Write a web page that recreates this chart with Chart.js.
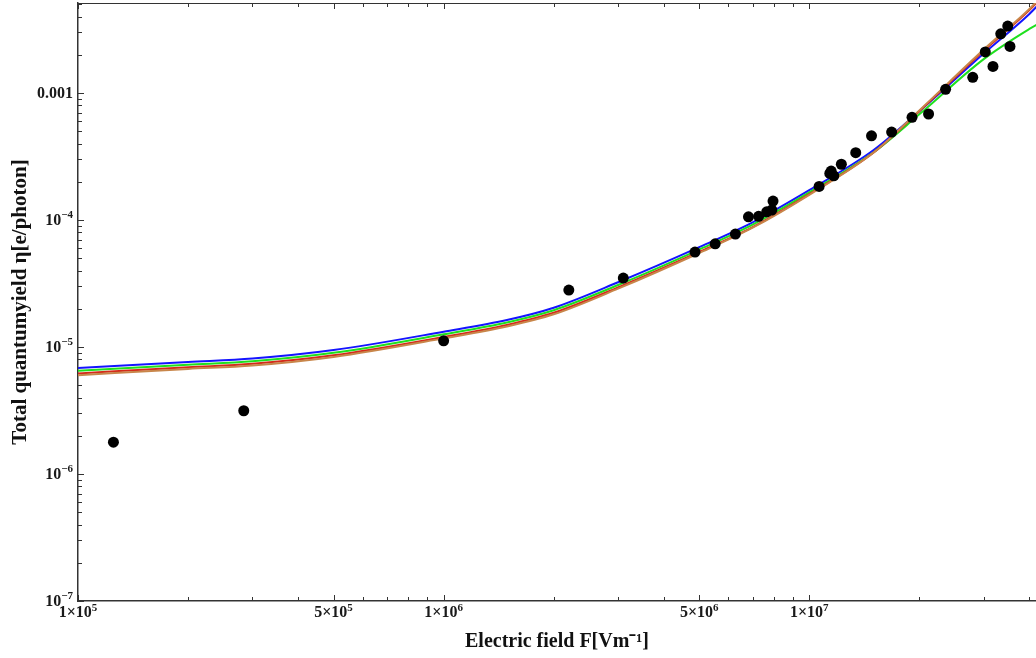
<!DOCTYPE html>
<html>
<head>
<meta charset="utf-8">
<script src="https://cdn.jsdelivr.net/npm/chart.js@4/dist/chart.umd.min.js"></script>
<style>
    body { margin: 0; background: #fff; }
</style>
</head>
<body>
<canvas id="yieldChart" width="1036" height="658"></canvas>
<script>
const fieldGrid = [1e5, 2e5, 3e5, 5e5, 1e6, 1.5e6, 2e6, 3e6, 5e6, 7e6, 1e7, 1.5e7, 2e7, 3e7, 4e7, 4.3e7]
const yieldBlue = [6.84e-6, 7.62e-6, 8.11e-6, 9.46e-6, 1.32e-5, 1.64e-5, 2.04e-5, 3.24e-5, 6.12e-5, 9.6e-5, 1.72e-4, 3.56e-4, 7.2e-4, 2.05e-3, 4.2e-3, 5.2e-3]
const yieldGreen = [6.5e-6, 7.25e-6, 7.72e-6, 9.0e-6, 1.26e-5, 1.57e-5, 1.95e-5, 3.08e-5, 5.85e-5, 9.2e-5, 1.65e-4, 3.42e-4, 6.8e-4, 1.85e-3, 3.2e-3, 3.6e-3]
const yieldRed = [6.2e-6, 6.93e-6, 7.38e-6, 8.6e-6, 1.2e-5, 1.5e-5, 1.86e-5, 2.95e-5, 5.6e-5, 8.8e-5, 1.6e-4, 3.4e-4, 7.2e-4, 2.15e-3, 4.5e-3, 5.6e-3]
const yieldBrown = [6.0e-6, 6.72e-6, 7.15e-6, 8.35e-6, 1.17e-5, 1.46e-5, 1.81e-5, 2.88e-5, 5.5e-5, 8.7e-5, 1.58e-4, 3.4e-4, 7.3e-4, 2.2e-3, 4.6e-3, 5.7e-3]

const measuredField = [1.25e5, 2.84e5, 1.0e6, 2.2e6, 3.1e6, 4.87e6, 5.53e6, 6.28e6, 6.82e6, 7.27e6, 7.65e6, 7.9e6, 7.96e6, 1.064e7, 1.138e7, 1.148e7, 1.167e7, 1.224e7, 1.34e7, 1.48e7, 1.68e7, 1.91e7, 2.12e7, 2.36e7, 2.8e7, 3.03e7, 3.18e7, 3.34e7, 3.49e7, 3.54e7]
const measuredYield = [1.78e-6, 3.15e-6, 1.12e-5, 2.81e-5, 3.49e-5, 5.6e-5, 6.5e-5, 7.76e-5, 1.06e-4, 1.07e-4, 1.16e-4, 1.2e-4, 1.41e-4, 1.84e-4, 2.33e-4, 2.43e-4, 2.23e-4, 2.75e-4, 3.39e-4, 4.61e-4, 4.93e-4, 6.44e-4, 6.84e-4, 1.07e-3, 1.33e-3, 2.11e-3, 1.62e-3, 2.93e-3, 3.37e-3, 2.33e-3]

const xTickValues = [1e5, 2e5, 3e5, 4e5, 5e5, 6e5, 7e5, 8e5, 9e5, 1e6, 2e6, 3e6, 4e6, 5e6, 6e6, 7e6, 8e6, 9e6, 1e7, 2e7, 3e7, 4e7]
const xMajorValues = [1e5, 5e5, 1e6, 5e6, 1e7]
const xMajorBase = ['1×10', '5×10', '1×10', '5×10', '1×10']
const xMajorExp = ['5', '5', '6', '6', '7']
const yTickValues = [1e-7, 2e-7, 3e-7, 4e-7, 5e-7, 6e-7, 7e-7, 8e-7, 9e-7, 1e-6, 2e-6, 3e-6, 4e-6, 5e-6, 6e-6, 7e-6, 8e-6, 9e-6, 1e-5, 2e-5, 3e-5, 4e-5, 5e-5, 6e-5, 7e-5, 8e-5, 9e-5, 1e-4, 2e-4, 3e-4, 4e-4, 5e-4, 6e-4, 7e-4, 8e-4, 9e-4, 1e-3, 2e-3, 3e-3, 4e-3, 5e-3]
const yMajorValues = [1e-7, 1e-6, 1e-5, 1e-4, 1e-3]
const yMajorBase = ['10', '10', '10', '10', '0.001']
const yMajorExp = ['−7', '−6', '−5', '−4', '']

const serif = "'Liberation Serif', 'Times New Roman', serif"

const toPoints = (xs, ys) => xs.map((x, i) => ({ x: x, y: ys[i] }))

const curve = (label, ys, color) => ({
    type: 'line',
    label: label,
    data: toPoints(fieldGrid, ys),
    borderColor: color,
    borderWidth: 2,
    pointRadius: 0,
    cubicInterpolationMode: 'monotone',
    fill: false
})

// frame line on top and inward tick marks like the original plot
const frameTicks = {
    id: 'frameTicks',
    beforeDatasetsDraw(chart) {
        const { ctx, chartArea, scales } = chart
        ctx.save()
        ctx.strokeStyle = '#333'
        ctx.lineWidth = 1
        ctx.beginPath()
        ctx.moveTo(chartArea.left, chartArea.top + 0.5)
        ctx.lineTo(chartArea.right, chartArea.top + 0.5)
        scales.x.ticks.forEach(t => {
            const px = Math.round(scales.x.getPixelForValue(t.value)) + 0.5
            const len = xMajorValues.includes(t.value) ? 6 : 4
            ctx.moveTo(px, chartArea.bottom)
            ctx.lineTo(px, chartArea.bottom - len)
            ctx.moveTo(px, chartArea.top)
            ctx.lineTo(px, chartArea.top + len)
        })
        scales.y.ticks.forEach(t => {
            const py = Math.round(scales.y.getPixelForValue(t.value)) + 0.5
            const len = yMajorValues.includes(t.value) ? 6 : 4
            ctx.moveTo(chartArea.left, py)
            ctx.lineTo(chartArea.left + len, py)
        })
        ctx.stroke()
        ctx.restore()
    }
}

// tick labels with real superscripts
const powerLabels = {
    id: 'powerLabels',
    afterDraw(chart) {
        const { ctx, chartArea, scales } = chart
        const baseFont = 'bold 16px ' + serif
        const expFont = 'bold 11px ' + serif
        ctx.save()
        ctx.fillStyle = '#1a1a1a'
        ctx.textBaseline = 'alphabetic'
        ctx.textAlign = 'left'
        xMajorValues.forEach((v, i) => {
            const px = scales.x.getPixelForValue(v)
            ctx.font = baseFont
            const wb = ctx.measureText(xMajorBase[i]).width
            ctx.font = expFont
            const we = ctx.measureText(xMajorExp[i]).width
            const x0 = px - (wb + we) / 2
            const yb = chartArea.bottom + 16
            ctx.font = baseFont
            ctx.fillText(xMajorBase[i], x0, yb)
            ctx.font = expFont
            ctx.fillText(xMajorExp[i], x0 + wb, yb - 6)
        })
        yMajorValues.forEach((v, i) => {
            const py = scales.y.getPixelForValue(v)
            ctx.font = expFont
            const we = ctx.measureText(yMajorExp[i]).width
            ctx.font = baseFont
            const wb = ctx.measureText(yMajorBase[i]).width
            const xr = chartArea.left - 5
            ctx.fillText(yMajorBase[i], xr - we - wb, py + 5)
            ctx.font = expFont
            ctx.fillText(yMajorExp[i], xr - we, py - 2)
        })
        ctx.restore()
    }
}

const initializeYieldChart = () => {
    const canvas = document.getElementById('yieldChart')

    new Chart(canvas, {
        data: {
            datasets: [
                {
                    type: 'scatter',
                    label: 'measured',
                    data: toPoints(measuredField, measuredYield),
                    backgroundColor: '#000',
                    borderWidth: 0,
                    pointRadius: 5.5
                },
                curve('brown', yieldBrown, '#c8864a'),
                curve('red', yieldRed, '#d42a1a'),
                curve('green', yieldGreen, '#1ee01e'),
                curve('blue', yieldBlue, '#1414ff')
            ]
        },
        options: {
            responsive: false,
            animation: false,
            layout: { autoPadding: false, padding: { top: 3, right: 0, left: 0, bottom: 0 } },
            plugins: {
                legend: { display: false },
                tooltip: { enabled: false }
            },
            scales: {
                x: {
                    type: 'logarithmic',
                    position: 'bottom',
                    min: 1e5,
                    max: 4.17e7,
                    bounds: 'data',
                    grid: { display: false, drawTicks: false },
                    border: { display: true, color: '#333', width: 1.5 },
                    afterBuildTicks: s => { s.ticks = xTickValues.map(v => ({ value: v })) },
                    afterFit: s => { s.height = 57; s.paddingLeft = 0; s.paddingRight = 0 },
                    ticks: { display: false, autoSkip: false },
                    title: {
                        display: true,
                        text: 'Electric field F[Vm⁻¹]',
                        color: '#111',
                        padding: { top: 0, bottom: 4 },
                        font: { family: serif, size: 20, weight: 'bold' }
                    }
                },
                y: {
                    type: 'logarithmic',
                    position: 'left',
                    min: 1e-7,
                    max: 5.12e-3,
                    bounds: 'data',
                    grid: { display: false, drawTicks: false },
                    border: { display: true, color: '#333', width: 1.5 },
                    afterBuildTicks: s => { s.ticks = yTickValues.map(v => ({ value: v })) },
                    afterFit: s => { s.width = 78; s.paddingTop = 0; s.paddingBottom = 0 },
                    ticks: { display: false, autoSkip: false },
                    title: {
                        display: true,
                        text: 'Total quantumyield η[e/photon]',
                        color: '#111',
                        padding: { top: 8, bottom: 0 },
                        font: { family: serif, size: 21, weight: 'bold' }
                    }
                }
            }
        },
        plugins: [frameTicks, powerLabels]
    })
}

initializeYieldChart()
</script>
</body>
</html>
